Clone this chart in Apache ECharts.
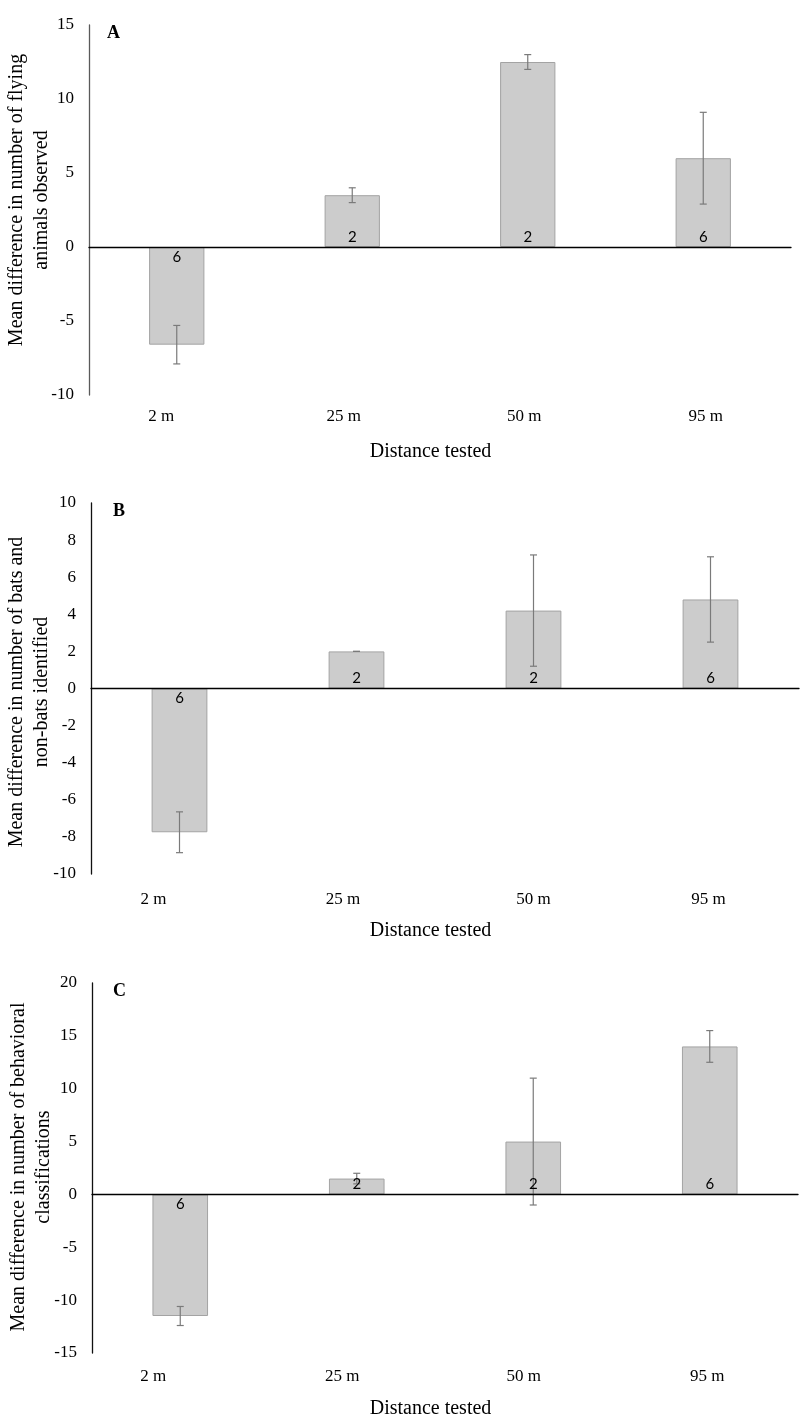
<!DOCTYPE html>
<html>
<head>
<meta charset="utf-8">
<script src="https://cdn.jsdelivr.net/npm/echarts@6/dist/echarts.min.js"></script>
<style>
html,body{margin:0;padding:0;background:#fff;}
#chart{width:800px;height:1422px;}
</style>
</head>
<body>
<div id="chart"></div>
<script>
// ---- data ----
const categories = ['2 m', '25 m', '50 m', '95 m'];
const nCounts = [6, 2, 2, 6];

const meansA = [-6.6, 3.5, 12.5, 6.0];
const errA   = [1.3, 0.5, 0.5, 3.1];

const meansB = [-7.75, 2.0, 4.2, 4.8];
const errB   = [1.1, 0.0, 3.0, 2.3];

const meansC = [-11.5, 1.5, 5.0, 14.0];
const errC   = [0.9, 0.5, 6.0, 1.5];

const yTitles = [
  'Mean difference in number of flying\nanimals observed',
  'Mean difference in number of bats and\nnon-bats identified',
  'Mean difference in number of behavioral\nclassifications'
];
const xTitle = 'Distance tested';
const panelLetters = ['A', 'B', 'C'];
const yRanges = [[-10, 15, 5], [-10, 10, 2], [-15, 20, 5]];

// ---- layout ----
const grids = [
  {left: 89, top: 25, width: 702, height: 370},
  {left: 91, top: 503, width: 708, height: 371},
  {left: 92, top: 983, width: 706, height: 370}
];
const xLabelMargins = [13, 17.5, 15.5];
// horizontal shift of each category label (px) relative to its bar, as in the original figure
const xLabelShifts = [
  [-15.5, -8.5, -3.5, 2.5],
  [-26, -13.5, 0, -2],
  [-27, -14.5, -9.5, -2.5]
];
const yAxisColors = ['#5a5a5a', '#111', '#111'];
const yTitlePos = [[29.5, 200], [29.5, 692], [31.5, 1167]];
const xTitleY = [452, 931, 1409];
const letterPos = [[107, 33.5], [113, 511], [113, 991.5]];

const serif = '"Liberation Serif", "Times New Roman", serif';
const sans = 'Lato, "Open Sans", sans-serif';

const allMeans = [meansA, meansB, meansC];
const allErrs = [errA, errB, errC];

function errRender(params, api) {
  const x = api.value(0), m = api.value(1), e = api.value(2);
  const hi = api.coord([x, m + e]);
  const lo = api.coord([x, m - e]);
  const c = 3.5;
  const st = {stroke: '#7a7a7a', lineWidth: 1.2};
  return {
    type: 'group',
    children: [
      {type: 'line', shape: {x1: hi[0], y1: hi[1], x2: lo[0], y2: lo[1]}, style: st},
      {type: 'line', shape: {x1: hi[0] - c, y1: hi[1], x2: hi[0] + c, y2: hi[1]}, style: st},
      {type: 'line', shape: {x1: lo[0] - c, y1: lo[1], x2: lo[0] + c, y2: lo[1]}, style: st}
    ]
  };
}

function nRender(params, api) {
  const x = api.value(0), m = api.value(1), n = api.value(2);
  const p = api.coord([x, 0]);
  const dy = m >= 0 ? -10 : 10;
  return {
    type: 'text',
    x: p[0], y: p[1] + dy,
    style: {
      text: String(n), x: 0, y: 0,
      align: 'center', verticalAlign: 'middle',
      textAlign: 'center', textVerticalAlign: 'middle',
      fontFamily: sans, fontSize: 15, fill: '#000'
    },
    z2: 10
  };
}

function labelRich(shifts) {
  const rich = {};
  shifts.forEach((s, i) => {
    const pad = Math.abs(s) * 2;
    rich['l' + i] = {
      fontFamily: serif, fontSize: 17, color: '#000',
      padding: s < 0 ? [0, pad, 0, 0] : [0, 0, 0, pad]
    };
  });
  return rich;
}

const xAxes = [], yAxes = [], series = [], graphics = [];
for (let g = 0; g < 3; g++) {
  // bottom label axis
  xAxes.push({
    type: 'category', gridIndex: g, data: categories, position: 'bottom',
    axisLine: {show: false, onZero: false}, axisTick: {show: false},
    axisLabel: {
      margin: xLabelMargins[g], fontFamily: serif, fontSize: 17, color: '#000',
      formatter: (val, idx) => '{l' + idx + '|' + val + '}',
      rich: labelRich(xLabelShifts[g])
    },
    splitLine: {show: false}
  });
  // zero line axis
  xAxes.push({
    type: 'category', gridIndex: g, data: categories, z: 10,
    axisLine: {show: true, onZero: true, lineStyle: {color: '#000', width: 1.3}},
    axisTick: {show: false}, axisLabel: {show: false}, splitLine: {show: false}
  });
  yAxes.push({
    type: 'value', gridIndex: g,
    min: yRanges[g][0], max: yRanges[g][1], interval: yRanges[g][2],
    axisLine: {show: true, lineStyle: {color: yAxisColors[g], width: 1.3}},
    axisTick: {show: false},
    axisLabel: {margin: 15, fontFamily: serif, fontSize: 17, color: '#000'},
    splitLine: {show: false}
  });
  series.push({
    type: 'bar', xAxisIndex: g * 2, yAxisIndex: g,
    data: allMeans[g], barWidth: '31.5%',
    itemStyle: {color: '#cccccc', borderColor: '#a3a3a3', borderWidth: 1},
    silent: true, animation: false
  });
  series.push({
    type: 'custom', xAxisIndex: g * 2, yAxisIndex: g,
    renderItem: errRender,
    data: allMeans[g].map((m, i) => [i, m, allErrs[g][i]]),
    z: 5, animation: false, silent: true
  });
  series.push({
    type: 'custom', xAxisIndex: g * 2, yAxisIndex: g,
    renderItem: nRender,
    data: allMeans[g].map((m, i) => [i, m, nCounts[i]]),
    z: 12, animation: false, silent: true
  });
  graphics.push({
    type: 'text', x: yTitlePos[g][0], y: yTitlePos[g][1], rotation: Math.PI / 2,
    style: {
      text: yTitles[g], x: 0, y: 0,
      align: 'center', verticalAlign: 'middle',
      textAlign: 'center', textVerticalAlign: 'middle',
      fontFamily: serif, fontSize: 20, lineHeight: 25, fill: '#000'
    }
  });
  graphics.push({
    type: 'text', x: 430.5, y: xTitleY[g],
    style: {
      text: xTitle, x: 0, y: 0,
      align: 'center', verticalAlign: 'middle',
      textAlign: 'center', textVerticalAlign: 'middle',
      fontFamily: serif, fontSize: 20, fill: '#000'
    }
  });
  graphics.push({
    type: 'text', x: letterPos[g][0], y: letterPos[g][1],
    style: {
      text: panelLetters[g], x: 0, y: 0,
      align: 'left', verticalAlign: 'middle',
      textAlign: 'left', textVerticalAlign: 'middle',
      fontFamily: serif, fontSize: 18, fontWeight: 'bold', fill: '#000'
    }
  });
}

const chart = echarts.init(document.getElementById('chart'), null, {renderer: 'canvas'});
chart.setOption({
  animation: false,
  backgroundColor: '#fff',
  grid: grids,
  xAxis: xAxes,
  yAxis: yAxes,
  series: series,
  graphic: graphics
});
</script>
</body>
</html>
